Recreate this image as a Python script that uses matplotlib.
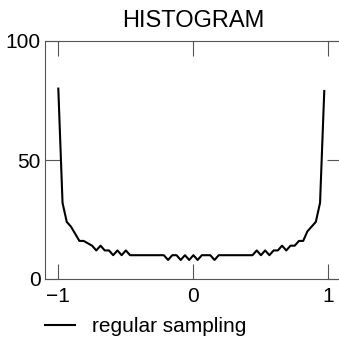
import numpy as np
import matplotlib
matplotlib.use("Agg")
from matplotlib import pyplot as plt

plt.rcParams['font.family'] = ['Liberation Sans', 'DejaVu Sans']

# histogram counts, 64 bins over [-1, 1]
counts = [80, 32, 24, 22, 19, 16, 16, 15, 14, 12, 14, 12, 12, 10, 12, 10, 12, 10,
          10, 10, 10, 10, 10, 10, 10, 10,
          8, 10, 10, 8, 10, 8, 10, 8, 10, 10, 10, 8, 10,
          10, 10, 10, 10, 10, 10, 10,
          10, 12, 10, 12, 10, 12, 12, 14, 12, 14, 14, 16, 16, 20, 22, 24, 32, 79]
edges = np.linspace(-1, 1, len(counts) + 1)[:-1]
xticks = [-1, 0, 1]
yticks = [0, 50, 100]
title = "HISTOGRAM"
label = "regular sampling"

fig = plt.figure(figsize=(3.39, 3.49), dpi=100)
ax = fig.add_axes([45/339, 70/349, 297/339, 238/349])
ax.plot(edges, counts, color="black", lw=1.5, label=label)

ax.set_xlim(-1.0985, 1.1)
ax.set_ylim(0, 100)
ax.set_xticks(xticks)
ax.set_xticklabels(["\u22121", "0", "1"])
ax.set_yticks(yticks)
ax.tick_params(direction="in", length=11, width=0.8, color="#555555",
               labelsize=15, top=True, right=True)
ax.tick_params(axis="x", pad=6)
ax.tick_params(axis="y", pad=3)
for s in ax.spines.values():
    s.set_color("#555555")
    s.set_linewidth(0.8)
ax.set_title(title, fontsize=17, pad=10)

ax.legend(loc="center left", bbox_to_anchor=(45/339, 1 - 327/349),
          bbox_transform=fig.transFigure, frameon=False, fontsize=15,
          borderpad=0, borderaxespad=0, handlelength=1.45, handletextpad=0.8)

fig.savefig("out.png", dpi=100)
